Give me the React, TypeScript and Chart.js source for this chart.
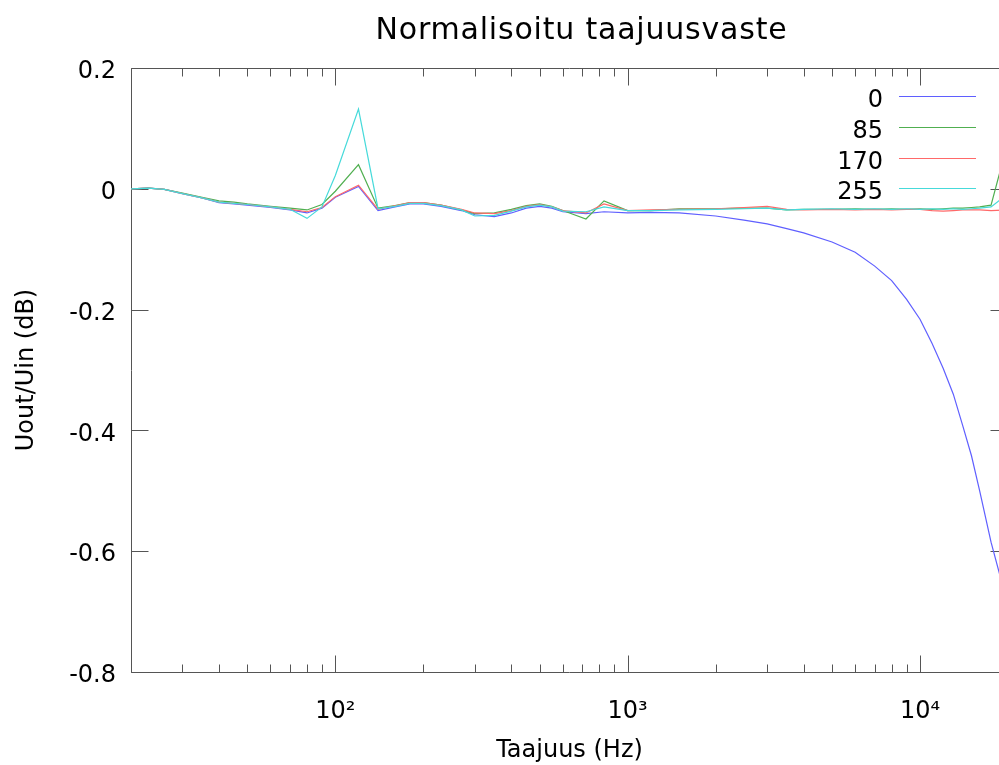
import React, { useEffect, useRef } from "react";
import { Chart, registerables } from "chart.js";

Chart.register(...registerables);

// ---- data ----
const frequencies = [
  20, 23, 26, 30, 35, 40, 45, 50, 60, 70, 80, 90, 100, 120, 140, 160, 180, 200, 230, 270,
  300, 350, 400, 450, 500, 550, 600, 720, 830, 1000, 1200, 1500, 2000, 2500, 3000, 3500,
  4000, 5000, 6000, 7000, 8000, 9000, 10000, 11000, 12000, 13000, 14000, 15000, 16000,
  17500, 20000,
];

const level0 = [
  0, 0.001, -0.001, -0.008, -0.015, -0.023, -0.025, -0.027, -0.031, -0.035, -0.04, -0.032,
  -0.014, 0.004, -0.036, -0.03, -0.025, -0.025, -0.029, -0.036, -0.043, -0.046, -0.04,
  -0.032, -0.029, -0.032, -0.038, -0.041, -0.038, -0.04, -0.039, -0.04, -0.045, -0.052,
  -0.058, -0.066, -0.073, -0.088, -0.105, -0.128, -0.152, -0.183, -0.216, -0.256, -0.297,
  -0.34, -0.392, -0.442, -0.5, -0.585, -0.69,
];

const level85 = [
  0, 0.001, -0.001, -0.007, -0.014, -0.02, -0.022, -0.025, -0.029, -0.032, -0.035, -0.026,
  -0.004, 0.04, -0.032, -0.028, -0.023, -0.023, -0.027, -0.035, -0.041, -0.04, -0.034,
  -0.028, -0.025, -0.029, -0.036, -0.05, -0.02, -0.036, -0.036, -0.033, -0.033, -0.032,
  -0.032, -0.035, -0.034, -0.034, -0.033, -0.034, -0.033, -0.034, -0.033, -0.034, -0.033,
  -0.032, -0.032, -0.031, -0.03, -0.027, 0.078,
];

const level170 = [
  0, 0.001, -0.001, -0.008, -0.015, -0.022, -0.024, -0.026, -0.03, -0.034, -0.038, -0.031,
  -0.013, 0.006, -0.034, -0.028, -0.023, -0.023, -0.027, -0.034, -0.04, -0.041, -0.036,
  -0.029, -0.026, -0.03, -0.036, -0.04, -0.025, -0.036, -0.035, -0.034, -0.033, -0.031,
  -0.029, -0.034, -0.035, -0.034, -0.035, -0.034, -0.035, -0.034, -0.034, -0.036, -0.037,
  -0.036, -0.035, -0.035, -0.035, -0.036, -0.035,
];

const level255 = [
  0, 0.001, -0.001, -0.008, -0.015, -0.022, -0.024, -0.026, -0.03, -0.034, -0.049, -0.03,
  0.022, 0.132, -0.033, -0.029, -0.024, -0.024, -0.028, -0.035, -0.045, -0.044, -0.037,
  -0.03, -0.027, -0.03, -0.037, -0.038, -0.03, -0.036, -0.036, -0.035, -0.034, -0.033,
  -0.032, -0.035, -0.034, -0.033, -0.034, -0.033, -0.034, -0.033, -0.034, -0.033, -0.034,
  -0.033, -0.034, -0.033, -0.032, -0.03, -0.008,
];

const seriesLabels = ["0", "85", "170", "255"];
const seriesColors = ["rgb(95,95,255)", "rgb(80,175,80)", "rgb(255,105,105)", "rgb(70,218,218)"];

const yTickValues = [0.2, 0, -0.2, -0.4, -0.6, -0.8];
const xMajorTicks = [100, 1000, 10000];
const xTickLabels = ["10²", "10³", "10⁴"];
const xMinorTicks = [
  20, 30, 40, 50, 60, 70, 80, 90, 200, 300, 400, 500, 600, 700, 800, 900,
  2000, 3000, 4000, 5000, 6000, 7000, 8000, 9000, 20000,
];

const chartTitle = "Normalisoitu taajuusvaste";
const xTitle = "Taajuus (Hz)";
const yTitle = "Uout/Uin (dB)";

const FONT_FAMILY = "'DejaVu Sans', 'Liberation Sans', sans-serif";

// ---- plugins ----
const framePlugin = {
  id: "gnuplotFrame",
  beforeDatasetsDraw(chart: any) {
    const { ctx, chartArea, scales } = chart;
    const { left, right, top, bottom } = chartArea;
    const xs = scales.x;
    const ys = scales.y;
    const L = Math.round(left) + 0.5;
    const R = Math.round(right) - 0.5;
    const T = Math.round(top) + 0.5;
    const B = Math.round(bottom) + 0.5;
    ctx.save();
    ctx.strokeStyle = "#555555";
    ctx.lineWidth = 1;
    ctx.beginPath();
    ctx.rect(L, T, R - L, B - T);
    for (const v of yTickValues) {
      const py = Math.round(ys.getPixelForValue(v)) + 0.5;
      ctx.moveTo(L, py);
      ctx.lineTo(L + 17, py);
      ctx.moveTo(R, py);
      ctx.lineTo(R - 17, py);
    }
    const xTick = (f: number, len: number) => {
      const px = Math.round(xs.getPixelForValue(f)) + 0.5;
      ctx.moveTo(px, B);
      ctx.lineTo(px, B - len);
      ctx.moveTo(px, T);
      ctx.lineTo(px, T + len);
    };
    for (const f of xMajorTicks) xTick(f, 17);
    for (const f of xMinorTicks) xTick(f, 8);
    ctx.stroke();
    ctx.restore();
  },
};

const titleLegendPlugin = {
  id: "gnuplotTitleLegend",
  afterDraw(chart: any) {
    const { ctx, chartArea } = chart;
    const { left, right, top } = chartArea;
    ctx.save();
    // title
    ctx.fillStyle = "#000";
    ctx.font = `30px ${FONT_FAMILY}`;
    (ctx as any).letterSpacing = "0.8px";
    ctx.textAlign = "center";
    ctx.textBaseline = "alphabetic";
    ctx.fillText(chartTitle, (left + right) / 2 + 12, 39);
    (ctx as any).letterSpacing = "0px";
    // legend
    ctx.font = `24px ${FONT_FAMILY}`;
    ctx.textAlign = "right";
    ctx.textBaseline = "middle";
    chart.data.datasets.forEach((ds: any, i: number) => {
      const rowY = Math.round(top + 28 + i * 30.8) + 0.5;
      ctx.fillStyle = "#000";
      ctx.fillText(ds.label, right - 125, rowY + 4);
      ctx.strokeStyle = ds.borderColor;
      ctx.lineWidth = 1.2;
      ctx.beginPath();
      ctx.moveTo(right - 109, rowY);
      ctx.lineTo(right - 32, rowY);
      ctx.stroke();
    });
    ctx.restore();
  },
};

const seriesValues = [level0, level85, level170, level255];

export default function App() {
  const canvasRef = useRef<HTMLCanvasElement | null>(null);

  useEffect(() => {
    document.body.style.margin = "0";
    document.body.style.overflow = "hidden";
    document.documentElement.style.overflow = "hidden";
    const canvas = canvasRef.current;
    if (!canvas) return;
    const font = { family: FONT_FAMILY, size: 24 };
    const chart = new Chart(canvas, {
      type: "line",
      data: {
        datasets: seriesValues.map((vals, i) => ({
          label: seriesLabels[i],
          data: frequencies.map((f, j) => ({ x: f, y: vals[j] })),
          borderColor: seriesColors[i],
          backgroundColor: seriesColors[i],
          borderWidth: 1.2,
          pointRadius: 0,
          tension: 0,
          fill: false,
          order: 3 - i,
        })),
      },
      options: {
        animation: false,
        responsive: false,
        devicePixelRatio: 1,
        layout: { padding: { top: 68, left: 0, right: 2, bottom: 0 } },
        plugins: {
          legend: { display: false },
          title: { display: false },
          tooltip: { enabled: false },
        },
        scales: {
          x: {
            type: "logarithmic",
            min: 20,
            max: 20000,
            afterBuildTicks: (s: any) => {
              s.ticks = xMajorTicks.map((v) => ({ value: v }));
            },
            afterFit: (s: any) => {
              s.height = 93;
            },
            ticks: {
              font,
              color: "#000",
              padding: 25,
              maxRotation: 0,
              autoSkip: false,
              callback: (v: any) => {
                const k = xMajorTicks.indexOf(Number(v));
                return k >= 0 ? xTickLabels[k] : "";
              },
            },
            grid: { display: false, drawTicks: false },
            border: { display: false },
            title: { display: true, text: xTitle, font, color: "#000", padding: { top: 0, bottom: 0 } },
          },
          y: {
            type: "linear",
            min: -0.8,
            max: 0.2,
            afterBuildTicks: (s: any) => {
              s.ticks = yTickValues.map((v) => ({ value: v }));
            },
            afterFit: (s: any) => {
              s.width = 131;
            },
            ticks: {
              font,
              color: "#000",
              padding: 15,
              labelOffset: 4,
              callback: (v: any) => {
                const n = Number(Number(v).toFixed(1));
                return n === 0 ? "0" : String(n);
              },
            },
            grid: { display: false, drawTicks: false },
            border: { display: false },
            title: { display: true, text: yTitle, font, color: "#000", padding: { top: 12, bottom: 0 } },
          },
        },
      },
      plugins: [framePlugin, titleLegendPlugin],
    } as any);
    return () => chart.destroy();
  }, []);

  return (
    <div style={{ width: 999, height: 765, overflow: "hidden", background: "#fff", position: "relative" }}>
      <canvas ref={canvasRef} width={1010} height={765} style={{ display: "block", width: 1010, height: 765 }} />
    </div>
  );
}
